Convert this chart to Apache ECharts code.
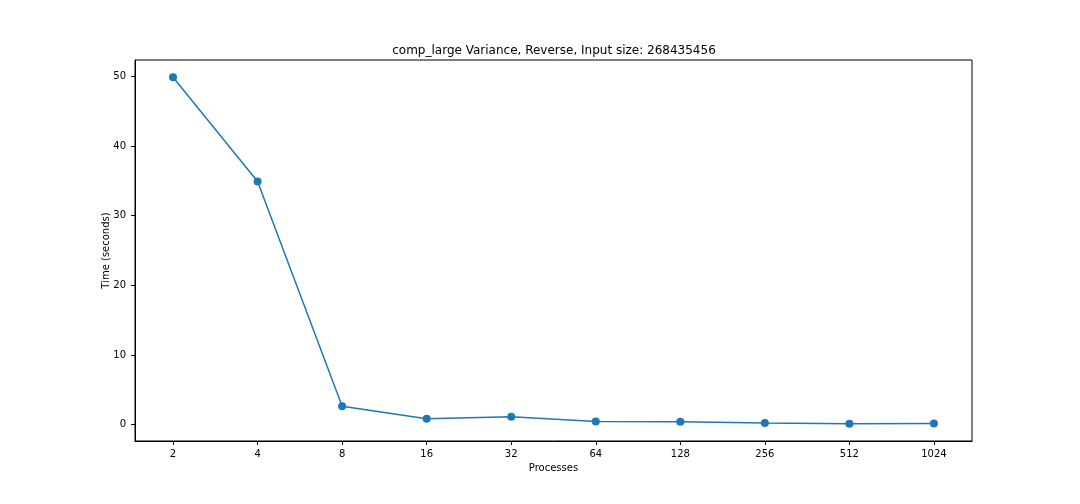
<!DOCTYPE html>
<html><head><meta charset="utf-8">
<script src="https://cdn.jsdelivr.net/npm/echarts@6/dist/echarts.min.js"></script>
<style>html,body{margin:0;padding:0;background:#fff}#c{width:1080px;height:504px}</style>
</head><body><div id="c"></div>
<script>
const categories = ["2","4","8","16","32","64","128","256","512","1024"];
const timeSeconds = [49.85, 34.9, 2.63, 0.85, 1.15, 0.45, 0.42, 0.24, 0.14, 0.16];
const yTicks = [0, 10, 20, 30, 40, 50];

const chart = echarts.init(document.getElementById('c'), null, {renderer: 'canvas'});
const idx = categories.map((_, i) => i);
const font = 'DejaVu Sans';
const yMin = Math.min(...timeSeconds), yMax = Math.max(...timeSeconds);
const pad = (yMax - yMin) * 0.05;
chart.setOption({
  animation: false,
  backgroundColor: '#fff',
  title: {
    text: 'comp_large Variance, Reverse, Input size: 268435456',
    left: 549, textAlign: 'center', top: 40,
    textStyle: {fontFamily: font, fontSize: 12, fontWeight: 'normal', color: '#000'}
  },
  grid: {left: 135, right: 108, top: 60, bottom: 63, show: true, borderColor: '#000', borderWidth: 1, backgroundColor: 'transparent'},
  xAxis: {
    type: 'value', min: -0.45, max: 9.45,
    name: 'Processes', nameLocation: 'middle', nameGap: 20,
    nameTextStyle: {fontFamily: font, fontSize: 10, color: '#000'},
    axisLine: {show: true, onZero: false, lineStyle: {color: '#000', width: 1}},
    splitLine: {show: false},
    axisTick: {show: true, customValues: idx, length: 4, lineStyle: {color: '#000'}},
    axisLabel: {customValues: idx, fontFamily: font, fontSize: 10, color: '#000', margin: 8,
      formatter: v => categories[Math.round(v)]}
  },
  yAxis: {
    type: 'value', min: yMin - pad, max: yMax + pad,
    name: 'Time (seconds)', nameLocation: 'middle', nameGap: 24, nameMoveOverlap: false,
    nameTextStyle: {fontFamily: font, fontSize: 10, color: '#000'},
    axisLine: {show: true, onZero: false, lineStyle: {color: '#000', width: 1}},
    splitLine: {show: false},
    axisTick: {show: true, customValues: yTicks, length: 4, lineStyle: {color: '#000'}},
    axisLabel: {customValues: yTicks, fontFamily: font, fontSize: 10, color: '#000', margin: 9}
  },
  series: [{
    type: 'line',
    data: timeSeconds.map((v, i) => [i, v]),
    symbol: 'circle', symbolSize: 8,
    lineStyle: {color: '#1f77b4', width: 1.5},
    itemStyle: {color: '#1f77b4'}
  }]
});
</script></body></html>
